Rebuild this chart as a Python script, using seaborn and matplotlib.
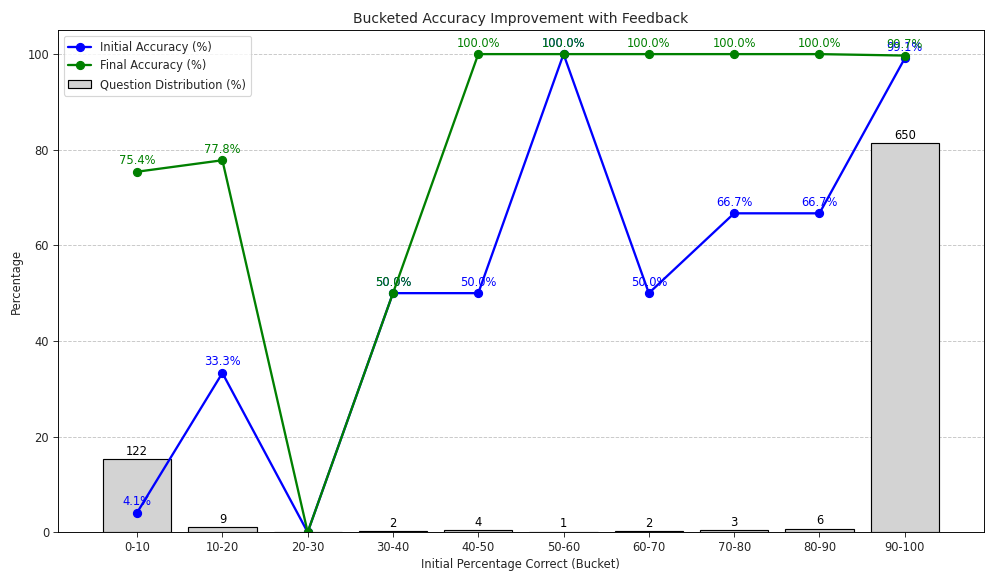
import matplotlib
matplotlib.use('Agg')

import matplotlib.pyplot as plt
import seaborn as sns
import pandas as pd
import numpy as np
from matplotlib.lines import Line2D
from matplotlib.patches import Patch

# Data
BUCKETS = ['0-10', '10-20', '20-30', '30-40', '40-50', '50-60', '60-70', '70-80', '80-90', '90-100']
COUNTS = [122, 9, 0, 2, 4, 1, 2, 3, 6, 650]
INITIAL_ACC = [4.1, 33.3, 0.0, 50.0, 50.0, 100.0, 50.0, 66.7, 66.7, 99.1]
FINAL_ACC = [75.4, 77.8, 0.0, 50.0, 100.0, 100.0, 100.0, 100.0, 100.0, 99.7]

total = sum(COUNTS)
dist_pct = [c / total * 100 for c in COUNTS]
pos = np.arange(len(BUCKETS))

df = pd.DataFrame({'pos': pos, 'bucket': BUCKETS, 'count': COUNTS, 'dist': dist_pct,
                   'initial': INITIAL_ACC, 'final': FINAL_ACC})

sns.set_style('white')
plt.rcParams['font.family'] = ['DejaVu Sans']

fig, ax = plt.subplots(figsize=(12, 7), dpi=83)

sns.barplot(data=df, x='pos', y='dist', color='lightgray', edgecolor='black',
            linewidth=1, width=0.8, saturation=1, ax=ax, zorder=1, native_scale=True)

ax.plot(df['pos'], df['initial'], color='blue', marker='o', linewidth=2, markersize=7, zorder=2)
ax.plot(df['pos'], df['final'], color='green', marker='o', linewidth=2, markersize=7, zorder=2)

for i in range(len(BUCKETS)):
    if COUNTS[i] == 0:
        continue
    ax.annotate(str(COUNTS[i]), (pos[i], dist_pct[i]), xytext=(0, 1), textcoords='offset points',
                ha='center', va='bottom', fontsize=10, color='black', zorder=1.9)
    ax.annotate(f'{INITIAL_ACC[i]:.1f}%', (pos[i], INITIAL_ACC[i]), xytext=(0, 4),
                textcoords='offset points', ha='center', va='bottom', fontsize=10,
                color='blue', zorder=1.9)
    ax.annotate(f'{FINAL_ACC[i]:.1f}%', (pos[i], FINAL_ACC[i]), xytext=(0, 4),
                textcoords='offset points', ha='center', va='bottom', fontsize=10,
                color='green', zorder=1.9)

ax.set_xticks(pos)
ax.set_xticklabels(BUCKETS)
ax.set_xlim(-0.93, 9.93)
ax.set_ylim(0, 105)
ax.set_xlabel('Initial Percentage Correct (Bucket)')
ax.set_ylabel('Percentage')
ax.set_title('Bucketed Accuracy Improvement with Feedback', fontsize=12)
ax.yaxis.grid(True, linestyle='--', color='#b0b0b0', alpha=0.7, linewidth=0.8, zorder=0)
ax.set_axisbelow(True)
ax.tick_params(axis='both', which='both', length=4, direction='out', bottom=True, left=True)
for s in ax.spines.values():
    s.set_color('black')

handles = [
    Line2D([0], [0], color='blue', marker='o', linewidth=2, markersize=7, label='Initial Accuracy (%)'),
    Line2D([0], [0], color='green', marker='o', linewidth=2, markersize=7, label='Final Accuracy (%)'),
    Patch(facecolor='lightgray', edgecolor='black', label='Question Distribution (%)'),
]
ax.legend(handles=handles, loc='upper left', fontsize=10)

plt.subplots_adjust(left=0.058, right=0.988, top=0.948, bottom=0.084)
plt.savefig('out.png', dpi=83)
plt.close()
